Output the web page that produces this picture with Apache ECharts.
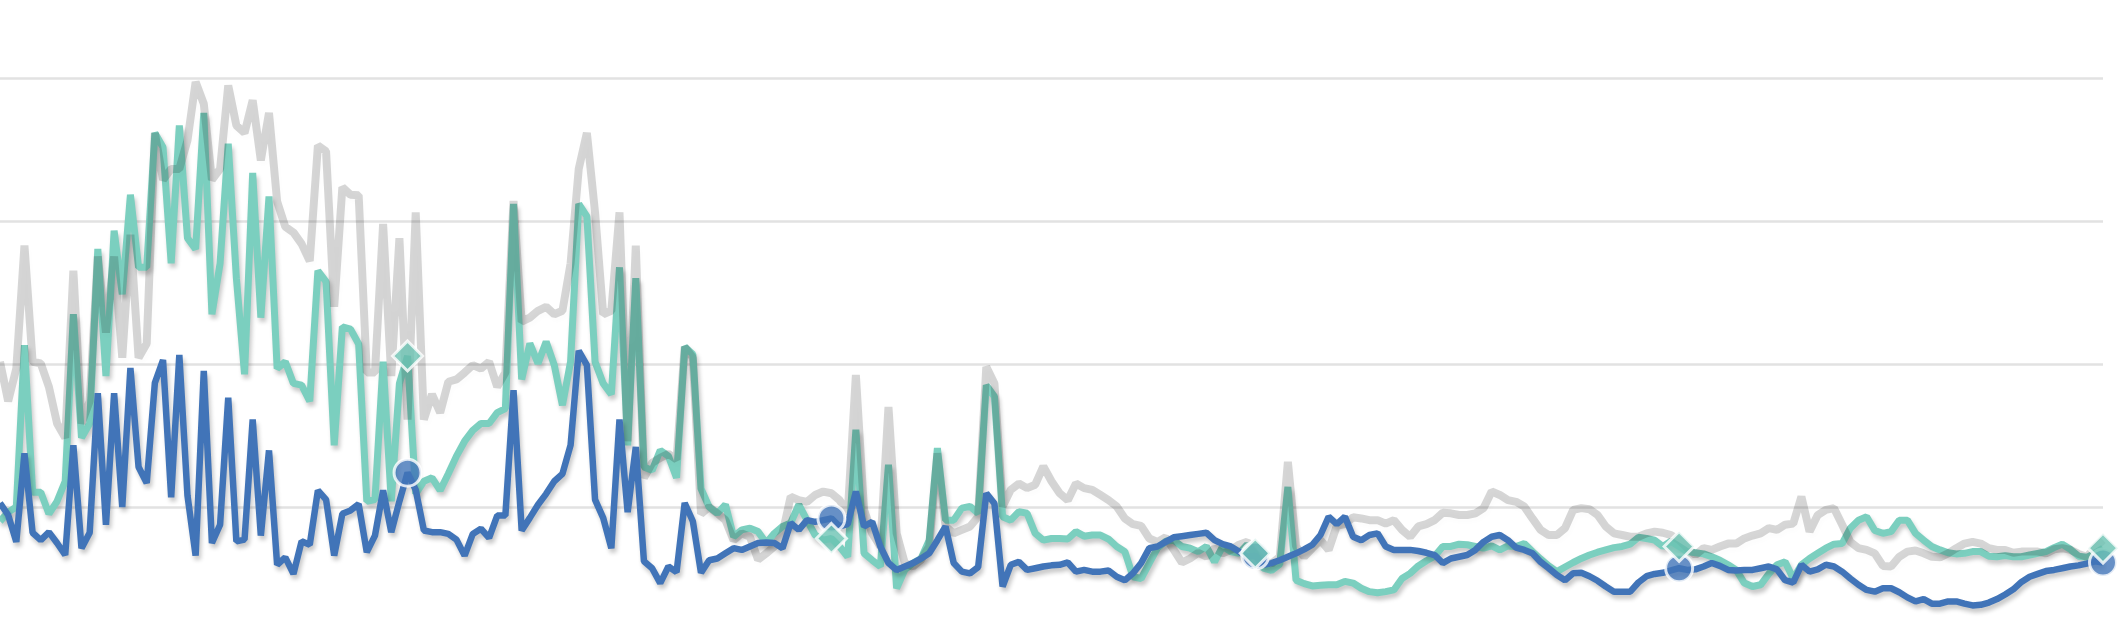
<!DOCTYPE html>
<html>
<head>
<meta charset="utf-8">
<script src="https://cdn.jsdelivr.net/npm/echarts@6/dist/echarts.min.js"></script>
<style>
html,body{margin:0;padding:0;background:#fff;overflow:hidden;}
#chart{width:2119px;height:700px;}
</style>
</head>
<body>
<div id="chart"></div>
<script>
// Weekly series (5 years), values on a 0–100 scale
const blueValues = [25.7,23.6,18.9,34.4,20.5,19.2,20.6,18.7,16.6,35.8,17.8,20.5,44.9,21.9,44.9,25,49.3,32,29.2,46.7,50.7,26.7,51.6,27,16.5,48.8,18.7,21.9,44.1,19,19.3,40.3,20,34.9,14.9,16.2,13.3,19,18.4,27.9,26.3,16.5,23.8,24.4,25.5,17.1,20,27.9,20.6,26,31,28,20.9,20.6,20.6,20.3,19.3,16.5,20.3,21.2,19.6,23.5,23.5,45.4,20.9,23.1,25.4,27.3,29.5,30.8,35.8,52.3,49.8,26.3,23.1,17.8,40.3,24.1,35.5,15.5,14.3,11.7,14.6,13.6,25.7,22.5,13.5,15.7,16,16.9,17.8,17.5,18.1,18.7,18.8,18.7,17.8,22.2,21,22.7,22.4,22.7,23,21.6,22,27.7,21.6,22.4,18.1,15.2,14,14.6,15.2,16,16.9,19.2,21.6,15.2,13.7,13.4,14.5,27.4,25.6,11.1,14.9,15.4,14,14.3,14.6,14.8,14.9,15.3,13.7,14,13.7,13.7,13.9,12.8,12.2,13.4,15.2,17.8,18.1,18.9,19.7,19.9,20.1,20.3,20.5,19.2,18.5,18.1,17.2,16.3,16.5,14.9,15.2,15.7,16.3,16.9,17.6,18.4,20.1,23.3,22,23.3,19.8,19.2,20.1,20.4,18.1,17.5,17.5,17.5,17.3,17,16.6,15.2,16,16.3,16.6,17.5,18.9,19.8,20.1,19.2,17.9,17.5,16.9,15.4,14.3,13.1,12.2,13.4,13.5,12.9,12.1,11.1,10.2,10.2,10.2,11.8,12.9,13.3,13.5,13.9,14.3,14,14.1,14.6,15.2,14.7,14,13.9,14,14,14.3,14.6,14.1,12.2,11.8,14.9,13.7,14.1,14.9,14.6,13.7,12.5,11.4,10.5,10.2,10.8,10.8,10.1,9.2,8.5,8.9,8.1,8.1,8.5,8.5,8.1,7.8,7.9,8.3,8.9,9.7,10.6,11.9,12.8,13.3,13.8,14,14.3,14.6,14.8,15.1,15.5,15.3];
const tealValues = [22.5,24.1,25,53.3,27.6,27.6,23.8,26,29.5,58.7,37.1,39.6,70.1,47.9,73.3,62.2,79.6,66.9,66.9,90.4,87.9,67.6,91.7,72,70.1,93.9,58.7,67.6,88.5,65,48.2,83.4,58.1,79.3,49.2,50.4,46.6,46.3,43.5,66.3,64.4,35.8,56.5,56.1,53.5,26,26.3,50.4,26,46.6,51.4,27.3,29.5,30.1,27.9,30.8,33.9,36.5,38.4,39.6,39.6,41.5,42.2,78,47.3,53.6,50.1,53.9,49.8,42.8,50.4,78,75.8,50.4,46.6,44.7,66.9,35.8,65,32,31.4,34.9,33.9,30.1,53,51.7,28.2,25,23.9,25.4,19.8,21,21.3,20.7,18.7,20.4,21.6,22.2,25.4,22.7,20.1,19.2,19.5,18.1,16.3,38.5,16.9,15.7,14.6,32.4,10.8,14,15.2,16,19.2,35.3,22.7,22.7,24.8,25.1,23.9,46.3,44.3,23.3,22.7,24.2,23.9,20.4,19.2,19.5,19.5,19.4,20.7,19.9,20.1,20.1,19.4,18.1,17.2,12.8,12.5,15.2,17.8,19,19.2,18.1,17.8,17.2,18.1,15.4,18.1,17.2,16.9,18.4,16.9,14.3,13.9,15,28.5,12.2,11.6,11.2,11.3,11.4,11.4,12,11.7,10.8,10.2,10,10.2,10.5,12.5,13.4,14.7,15.6,16.4,18.1,18.1,18.5,18.4,18.1,17.8,18.2,17.5,18.2,18.1,18.6,17.2,15.9,14.7,13.7,14.5,15.3,16,16.6,17.1,17.5,17.9,18.1,18.5,19.7,19.5,19.2,18.1,19,18.1,17.2,17,16.8,16.3,15.7,14.9,14,11.7,11.1,11.4,13.3,14.9,15.4,12.5,14.9,16,16.9,17.8,18.5,18.6,21.3,22.7,23.3,20.9,20.4,20.7,22.7,22.7,20.4,19.2,18.1,17.5,17,16.8,16.9,17.2,17.2,16.4,16.3,16.5,16.3,16.3,16.6,16.9,17.2,17.9,18.5,17.6,16.4,16.2,16.9,17.8];
const grayValues = [50.4,43.5,49.2,70.7,50.4,50.1,46,39.6,37.1,66.3,39.6,43.5,68.8,55.5,68.8,51.1,72.6,51.1,53.6,90.4,82.2,84.1,84.1,89.1,99.3,95.5,82.2,84.1,98.7,91.7,90.4,96.1,85.6,93.9,78.4,74,73,71,68,88.2,87.2,60,80.9,79.6,79.5,48.5,48.5,74.5,47.9,72,40.3,76.5,40.3,44.7,41.5,46.9,47.3,48.5,49.8,49.2,50.4,46,48.5,78.5,57.4,58.1,59.3,60,58.7,59.3,67.6,84.1,90.4,76.5,58.7,59.3,76.5,36.5,70.7,30.1,32.7,33.6,34.3,33.3,53,51.1,23.8,25,23.9,22.7,19.2,20.4,19.8,15.8,16.9,18.1,20.4,26.8,26.2,25.9,27.1,27.7,27.4,26.2,23.9,48.1,24.5,20.4,18.1,42.5,20.4,15.2,14.6,15.8,18.1,34.4,21.6,20.4,21,21.6,23.3,49.5,46.6,25.1,28,29.1,28.3,28.9,32.1,29.5,27.4,26.2,29.1,28.3,28,27.1,26.2,25.1,23,22,21.7,19.5,18.9,19.7,17.5,15.3,16,17,16.3,17.8,16.9,17.5,18.4,18.9,16.9,15.7,15.1,16.3,32.9,18.1,16.3,17.8,19.2,17.5,21.7,22,23.2,23,22.7,22.7,22.1,22.7,21,19.8,21.6,22,22.7,24,23.9,23.6,23.6,23.9,24.8,27.7,27.1,26.2,25.9,25.1,23,21,20.1,20.1,21.3,24.5,24.8,24.6,23.6,21.6,20.4,20.1,19.8,19.8,20.4,20.7,20.5,20.1,19.2,17.8,16.6,17.8,17.5,18.1,18.6,18.6,19.5,20,20.4,21.3,21,21.9,22.1,26.8,20.7,23.6,24.5,24.8,21.9,18.9,17.8,17.5,16.9,14.7,14.6,16.3,17.2,17.4,16.9,16.3,16.2,16.9,17.8,18.6,18.9,18.6,17.8,17.5,17.5,17,17.2,17.2,17.2,16.9,17.6,17.8,17.5,16.8,16.3,17.8,19.2];
const markerIndices = [50, 102, 154, 206, 258];
const yTicks = [0, 25, 50, 75, 100];

const categories = blueValues.map((_, i) => String(i + 1));

const chart = echarts.init(document.getElementById('chart'), null, {renderer: 'canvas'});
const shadow = {shadowColor: 'rgba(0,0,0,0.22)', shadowBlur: 4, shadowOffsetX: 2, shadowOffsetY: 4};

chart.setOption({
  animation: false,
  backgroundColor: '#ffffff',
  grid: {left: 0, right: 16, top: 78, height: 572, containLabel: false},
  xAxis: {
    type: 'category', data: categories, boundaryGap: false,
    axisLine: {show: false}, axisTick: {show: false}, axisLabel: {show: false}, splitLine: {show: false}
  },
  yAxis: {
    type: 'value', min: yTicks[0], max: yTicks[yTicks.length - 1], interval: yTicks[1] - yTicks[0],
    axisLine: {show: false}, axisTick: {show: false}, axisLabel: {show: false},
    splitLine: {show: true, lineStyle: {color: '#e2e2e2', width: 2.5}}
  },
  series: [
    {
      name: 'teal', type: 'line', data: tealValues, showSymbol: false, z: 2,
      lineStyle: Object.assign({color: '#7bcfbf', width: 7}, shadow)
    },
    {
      name: 'gray', type: 'line', data: grayValues, showSymbol: false, z: 3,
      lineStyle: Object.assign({color: 'rgba(0,0,0,0.16)', width: 8}, shadow, {shadowColor: 'rgba(0,0,0,0.07)'})
    },
    {
      name: 'blue', type: 'line', data: blueValues, showSymbol: false, z: 4,
      lineStyle: Object.assign({color: '#4174b8', width: 6.5}, shadow)
    },
    {
      name: 'blueMarks', type: 'scatter', z: 5, symbol: 'circle', symbolSize: 27,
      data: markerIndices.map(i => [String(i + 1), blueValues[i]]),
      itemStyle: {color: '#4174b8', borderColor: '#ffffff', borderWidth: 3}
    },
    {
      name: 'tealMarks', type: 'scatter', z: 6, symbol: 'diamond', symbolSize: [30, 30],
      data: markerIndices.map(i => [String(i + 1), tealValues[i]]),
      itemStyle: {color: '#6cc3b3', borderColor: '#ffffff', borderWidth: 3}
    }
  ]
});
</script>
</body>
</html>
